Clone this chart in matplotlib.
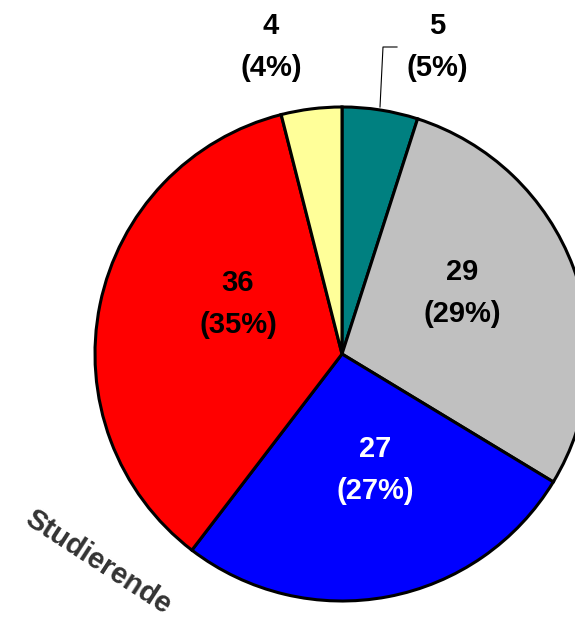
import matplotlib.pyplot as plt

# Werte der Tortengrafik (im Uhrzeigersinn ab 12 Uhr)
werte = [5, 29, 27, 36, 4]
prozente = [5, 29, 27, 35, 4]
farben = ['#008080', '#c0c0c0', '#0000ff', '#ff0000', '#ffff99']
textfarben = ['black', 'black', 'white', 'black', 'black']
titel = 'Studierende'

plt.rcParams['font.family'] = ['Liberation Sans', 'DejaVu Sans']

fig = plt.figure(figsize=(5.75, 6.21), dpi=100)
ax = fig.add_axes([0, 0, 1, 1])

# Mittelpunkt und Radius in Pixelkoordinaten (y von unten)
cx, cy, r = 342, 621 - 354, 247

wedges, _ = ax.pie(werte, colors=farben, startangle=90, counterclock=False,
                   center=(cx, cy), radius=r, frame=True,
                   wedgeprops=dict(edgecolor='black', linewidth=2.2))
ax.set_xlim(0, 575)
ax.set_ylim(0, 621)
ax.set_aspect('equal')
ax.axis('off')

# Beschriftungspositionen (Pixel)
pos = [(437, 47), (462, 293), (375, 470), (238, 304), (271, 47)]
for (px, py), w, p, tc in zip(pos, werte, prozente, textfarben):
    ax.text(px, 621 - py, f'{w}\n({p}%)', ha='center', va='center',
            fontsize=21, fontweight='bold', color=tc, linespacing=1.65)

# Führungslinie für das kleine Segment
ax.plot([380, 383, 397], [621 - 107, 621 - 47, 621 - 47], color='black', lw=0.8)

ax.text(98, 621 - 562, titel, rotation=-33, ha='center', va='center',
        fontsize=21, fontweight='bold', color='#333333', rotation_mode='anchor')

fig.savefig('out.png', dpi=100)
